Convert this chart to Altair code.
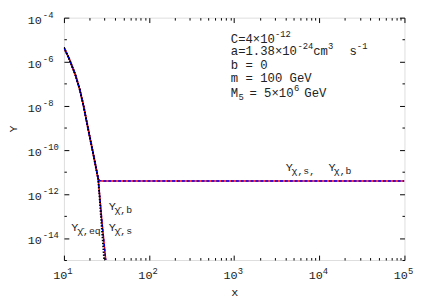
import altair as alt
import pandas as pd

# ---- data ----
x_eq = [10, 11.4, 13.6, 15.3, 17.0, 19.4, 22.2, 25.3, 27.4, 29.7, 30.9]
y_eq = [4.4e-6, 1.5e-6, 2.6e-7, 5.7e-8, 1.0e-8, 7.7e-10, 6.0e-11, 4.6e-12, 7.0e-14, 1.05e-15, 1.3e-16]

x_chibar = [10, 11.4, 13.6, 15.3, 17.0, 19.4, 22.2, 25.3, 27.8, 31.0, 32.8]
y_chibar = [4.4e-6, 1.5e-6, 2.6e-7, 5.7e-8, 1.0e-8, 7.7e-10, 6.0e-11, 4.6e-12, 7.0e-14, 1.0e-15, 1.0e-16]

x_chi = [10, 11.4, 13.6, 15.3, 17.0, 19.4, 22.2, 25.3, 26.3, 27.6, 100, 1000, 10000, 100000]
y_chi = [4.4e-6, 1.5e-6, 2.6e-7, 5.7e-8, 1.0e-8, 7.7e-10, 6.0e-11, 4.6e-12, 4.0e-12, 3.9e-12,
         3.9e-12, 3.9e-12, 3.9e-12, 3.9e-12]

x_major = [10, 100, 1000, 10000, 100000]
x_minor = [m * d for d in [10, 100, 1000, 10000] for m in range(2, 10)]
y_major = [1e-4, 1e-6, 1e-8, 1e-10, 1e-12, 1e-14]
y_minor = [1e-5, 1e-7, 1e-9, 1e-11, 1e-13, 1e-15]
x_exps = [1, 2, 3, 4, 5]
y_exps = [-4, -6, -8, -10, -12, -14]

# parameter box: base-size text pieces and raised/lowered small pieces
info_text = ["C=4×10", "a=1.38×10", "cm", "s", "b = 0", "m = 100 GeV", "M", "= 5×10", "GeV"]
info_x = [912, 912, 8472, 22620, 912, 912, 912, 1509, 6672]
info_y = [1.05e-5, 3.08e-6, 3.08e-6, 3.08e-6, 7.36e-7, 1.75e-7, 3.78e-8, 3.78e-8, 3.78e-8]
small_text = ["-12", "-24", "3", "-1", "5", "6"]
small_x = [3009, 5540, 12615, 27600, 1127, 5049]
small_y = [1.75e-5, 5.14e-6, 5.14e-6, 5.14e-6, 2.51e-8, 6.31e-8]

# curve labels
ylab_text = ["Y", "Y", "Y", "Y", "Y"]
ylab_x = [4030, 12800, 33.5, 33.5, 12.2]
ylab_y = [1.6e-11, 1.6e-11, 2.9e-13, 3.1e-14, 3.1e-14]
sub_text = ["χ,s,", "χ,b", "χ̄,b", "χ̄,s", "χ̄,eq"]
sub_x = [4720, 14800, 39.2, 39.2, 14.3]
sub_y = [1.05e-11, 1.05e-11, 1.95e-13, 2.05e-14, 2.05e-14]

W, H = 347, 247
FONT = "Liberation Mono"
TXT = "#222"


def exp_expr(exps):
    expr = "''"
    for e in exps:
        expr = f"round(log(datum.value)/LN10) == {e} ? '{e}' : ({expr})"
    return expr


rows = []
for s, xs_, ys_ in [("eq", x_eq, y_eq), ("chibar_s", x_chibar, y_chibar), ("chibar_b", x_chibar, y_chibar),
                    ("chi_s", x_chi, y_chi), ("chi_b", x_chi, y_chi)]:
    for i, (a, b) in enumerate(zip(xs_, ys_)):
        rows.append({"series": s, "x": a, "y": b, "i": i})
df = pd.DataFrame(rows)

xs = alt.Scale(type="log", domain=[10, 1e5])
ys = alt.Scale(type="log", domain=[1e-15, 1e-4])
base = alt.Chart(df)

common = dict(domain=False, grid=False, title=None)


def tick_layer(xvals, yvals, size, xorient, yorient, xoff, yoff):
    return base.mark_point(opacity=0).encode(
        x=alt.X("x:Q", scale=xs, axis=alt.Axis(values=xvals, orient=xorient, offset=xoff, tickSize=size,
                                               labels=False, tickColor="black", tickWidth=1, **common)),
        y=alt.Y("y:Q", scale=ys, axis=alt.Axis(values=yvals, orient=yorient, offset=yoff, tickSize=size,
                                               labels=False, tickColor="black", tickWidth=1, **common)),
    )


# "10" part of tick labels plus axis titles
label_base = base.mark_point(opacity=0).encode(
    x=alt.X("x:Q", scale=xs, axis=alt.Axis(values=x_major, orient="bottom", ticks=False, tickSize=0,
                                           domain=False, grid=False, labelExpr="'10'", labelAlign="right",
                                           labelBaseline="middle", labelPadding=15, labelOffset=3,
                                           labelFont=FONT, labelFontSize=12, labelColor=TXT,
                                           title="x", titleFont=FONT, titleFontSize=12,
                                           titleFontWeight="normal", titleColor=TXT, titleY=32,
                                           titleBaseline="middle")),
    y=alt.Y("y:Q", scale=ys, axis=alt.Axis(values=y_major, orient="left", ticks=False, tickSize=0,
                                           domain=False, grid=False, labelExpr="'10'", labelAlign="right",
                                           labelBaseline="middle", labelPadding=23, labelOffset=2,
                                           labelFont=FONT, labelFontSize=12, labelColor=TXT,
                                           title="Y", titleFont=FONT, titleFontSize=12,
                                           titleFontWeight="normal", titleColor=TXT,
                                           titleAngle=270, titleX=-52, titleY=113,
                                           titleBaseline="middle")),
)

# exponent part of tick labels
label_exp = base.mark_point(opacity=0).encode(
    x=alt.X("x:Q", scale=xs, axis=alt.Axis(values=x_major, orient="bottom", ticks=False, tickSize=0,
                                           labelExpr=exp_expr(x_exps), labelAlign="left",
                                           labelBaseline="middle", labelPadding=11, labelOffset=3,
                                           labelFont=FONT, labelFontSize=9, labelColor=TXT, **common)),
    y=alt.Y("y:Q", scale=ys, axis=alt.Axis(values=y_major, orient="left", ticks=False, tickSize=0,
                                           labelExpr=exp_expr(y_exps), labelAlign="left",
                                           labelBaseline="middle", labelPadding=22, labelOffset=-3,
                                           labelFont=FONT, labelFontSize=9, labelColor=TXT, **common)),
)

ticks = [
    tick_layer(x_major, y_major, 5, "top", "right", -H, -W),
    tick_layer(x_minor, y_minor, 2.5, "top", "right", -H, -W),
    tick_layer(x_major, y_major, 5, "bottom", "left", -H, -W),
    tick_layer(x_minor, y_minor, 2.5, "bottom", "left", -H, -W),
]


def line_layer(series, color, dash, width):
    return base.transform_filter(alt.FieldOneOfPredicate(field="series", oneOf=series)).mark_line(
        color=color, strokeDash=dash, strokeWidth=width, clip=True).encode(
        x=alt.X("x:Q", scale=xs, axis=None),
        y=alt.Y("y:Q", scale=ys, axis=None),
        detail="series:N",
        order="i:Q",
    )


red = line_layer(["chi_s", "chibar_s"], "#ff0000", [1, 0], 1.5)
blue = line_layer(["chi_b", "chibar_b"], "#0000ff", [3, 2], 1.5)
black = line_layer(["eq"], "#000000", [1.5, 1.5], 2)


def text_layer(t, x, y, size):
    d = pd.DataFrame({"t": t, "x": x, "y": y})
    return alt.Chart(d).mark_text(align="left", baseline="middle", font=FONT, fontSize=size,
                                  color=TXT).encode(
        x=alt.X("x:Q", scale=xs, axis=None), y=alt.Y("y:Q", scale=ys, axis=None), text="t:N")


info = text_layer(info_text, info_x, info_y, 12.5)
info_small = text_layer(small_text, small_x, small_y, 9)
ylab = text_layer(ylab_text, ylab_x, ylab_y, 12)
sub = text_layer(sub_text, sub_x, sub_y, 10)

chart = alt.layer(label_base, label_exp, *ticks, red, blue, black, info, info_small, ylab, sub).resolve_axis(
    x="independent", y="independent"
).properties(
    width=W, height=H, autosize=alt.AutoSizeParams(type="none"),
    padding={"left": 57, "top": 7, "right": 24, "bottom": 43},
).configure_view(stroke="black", strokeWidth=1).configure(background="white")

chart.save("out.html", embed_options={"renderer": "svg", "actions": False})
